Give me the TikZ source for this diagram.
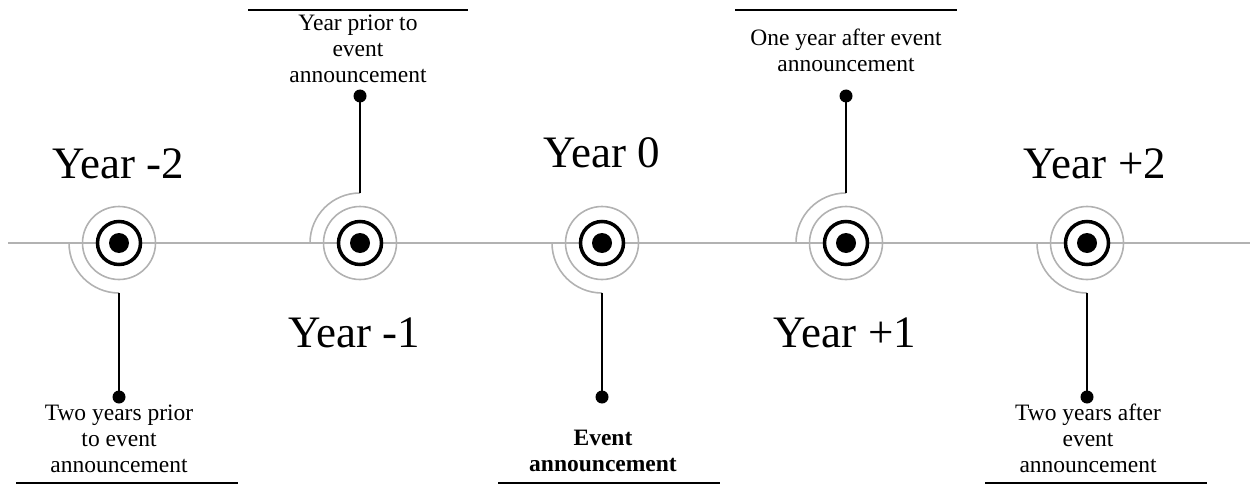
\documentclass[tikz,border=0pt]{standalone}
\usepackage{fontspec}
\setmainfont{Liberation Serif}
\begin{document}
\begin{tikzpicture}[x=1pt,y=-1pt,
 axisline/.style={draw=gray!60, line width=1.6pt},
 halo/.style={draw=gray!60, line width=1.6pt},
 ring/.style={circle, draw=black, line width=3.5pt, fill=white, minimum size=43pt, inner sep=0pt},
 core/.style={circle, fill=black, minimum size=20pt, inner sep=0pt},
 pin/.style={circle, fill=black, minimum size=13pt, inner sep=0pt},
 stem/.style={draw=black, line width=2pt},
 bar/.style={draw=black, line width=2pt},
 big/.style={font=\fontsize{45}{54}\selectfont, inner sep=0pt, anchor=base},
 small/.style={font=\fontsize{23.5}{26}\selectfont, inner sep=0pt, align=center, anchor=base}]
\useasboundingbox (0,0) rectangle (1252,484);
% axis
\coordinate (axl) at (8,243);
\coordinate (axr) at (1250,243);
\draw[axisline] (axl) -- (axr);
% halos and arcs
\foreach \x in {119,360,602,846,1087}{
  \draw[halo] (\x,243) circle[radius=36.5];
}
\foreach \x in {119,602,1087}{
  \draw[halo] (\x-50,243) arc[start angle=180, end angle=90, radius=50];
}
\foreach \x in {360,846}{
  \draw[halo] (\x-50,243) arc[start angle=180, end angle=270, radius=50];
}
% rings
\node[ring] (c1) at (119,243) {};
\node[ring] (c2) at (360,243) {};
\node[ring] (c3) at (602,243) {};
\node[ring] (c4) at (846,243) {};
\node[ring] (c5) at (1087,243) {};
\node[core] (k1) at (c1) {};
\node[core] (k2) at (c2) {};
\node[core] (k3) at (c3) {};
\node[core] (k4) at (c4) {};
\node[core] (k5) at (c5) {};
% stems
\coordinate (e1) at (119,293);
\coordinate (e2) at (360,193);
\coordinate (e3) at (602,293);
\coordinate (e4) at (846,193);
\coordinate (e5) at (1087,293);
\node[pin] (p1) at (119,397) {};
\node[pin] (p2) at (360,96) {};
\node[pin] (p3) at (602,397) {};
\node[pin] (p4) at (846,96) {};
\node[pin] (p5) at (1087,397) {};
\draw[stem] (e1) -- (p1.center);
\draw[stem] (e2) -- (p2.center);
\draw[stem] (e3) -- (p3.center);
\draw[stem] (e4) -- (p4.center);
\draw[stem] (e5) -- (p5.center);
% year labels
\node[big] (y1) at (118,178) {Year -2};
\node[big] (y2) at (354,347) {Year -1};
\node[big] (y3) at (602,167) {Year 0};
\node[big] (y4) at (845,347) {Year +1};
\node[big] (y5) at (1095,178) {Year +2};
% descriptions (anchor base = last line's baseline)
\node[small] (t1) at (119,472) {Two years prior\\to event\\announcement};
\node[small] (t2) at (358,83) {Year prior to\\event\\announcement};
\node[small] (t3) at (603,471) {\textbf{Event}\\\textbf{announcement}};
\node[small] (t4) at (846,72) {One year after event\\announcement};
\node[small] (t5) at (1088,472) {Two years after\\event\\announcement};
% bars
\coordinate (b1l) at (16,483);  \coordinate (b1r) at (238,483);
\coordinate (b2l) at (248,10);  \coordinate (b2r) at (468,10);
\coordinate (b3l) at (498,483); \coordinate (b3r) at (720,483);
\coordinate (b4l) at (735,10);  \coordinate (b4r) at (957,10);
\coordinate (b5l) at (985,483); \coordinate (b5r) at (1207,483);
\draw[bar] (b1l) -- (b1r);
\draw[bar] (b2l) -- (b2r);
\draw[bar] (b3l) -- (b3r);
\draw[bar] (b4l) -- (b4r);
\draw[bar] (b5l) -- (b5r);
\end{tikzpicture}
\end{document}
